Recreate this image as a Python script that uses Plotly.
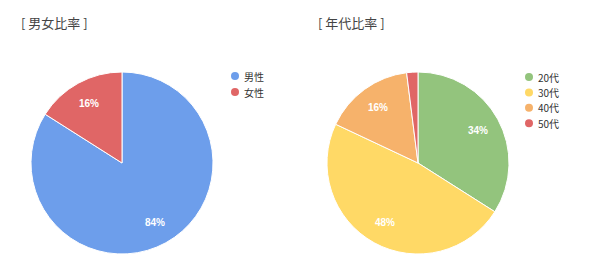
import math
import plotly.graph_objects as go

gender_labels = ["男性", "女性"]
gender_values = [84, 16]
gender_colors = ["#6d9eeb", "#e06666"]

age_labels = ["20代", "30代", "40代", "50代"]
age_values = [34, 48, 16, 2]
age_colors = ["#93c47d", "#ffd966", "#f6b26b", "#e06666"]

W, H = 590, 274
R = 91          # pie radius in px
CY = 163        # pie centre y (px from top)
LEFT_CX, RIGHT_CX = 122, 418

fig = go.Figure()
annotations = []
shapes = []


def add_pie(labels, values, colors, cx):
    fig.add_trace(go.Pie(
        labels=labels, values=values, sort=False, direction="clockwise",
        rotation=0, marker=dict(colors=colors, line=dict(color="white", width=1)),
        textinfo="none", showlegend=False, hoverinfo="label+percent",
        domain=dict(x=[(cx - R) / W, (cx + R) / W],
                    y=[1 - (CY + R) / H, 1 - (CY - R) / H]),
    ))
    # percentage labels placed along slice bisectors (Google-charts style)
    tot = sum(values)
    cum = 0
    for v in values:
        frac = v / tot
        mid = (cum + frac / 2) * 2 * math.pi
        cum += frac
        if frac < 0.05:
            continue
        r = 0.75 * R
        x = cx + r * math.sin(mid)
        y = CY - r * math.cos(mid)
        annotations.append(dict(
            text=f"<b>{round(frac * 100)}%</b>", x=x / W, y=1 - y / H,
            xref="paper", yref="paper", xanchor="center", yanchor="middle",
            showarrow=False,
            font=dict(size=10, color="white", family="Liberation Sans")))


def add_legend(labels, colors, lx, ly, step):
    for i, (lab, col) in enumerate(zip(labels, colors)):
        yy = ly + i * step
        shapes.append(dict(type="circle", xref="paper", yref="paper",
                           x0=(lx - 4) / W, x1=(lx + 4) / W,
                           y0=1 - (yy + 4) / H, y1=1 - (yy - 4) / H,
                           fillcolor=col, line=dict(width=0)))
        annotations.append(dict(
            text=lab, x=(lx + 7) / W, y=1 - yy / H, xref="paper", yref="paper",
            xanchor="left", yanchor="middle", showarrow=False,
            font=dict(size=10, color="#333", family="Noto Sans CJK JP")))


add_pie(gender_labels, gender_values, gender_colors, LEFT_CX)
add_pie(age_labels, age_values, age_colors, RIGHT_CX)
add_legend(gender_labels, gender_colors, 235, 76, 16)
add_legend(age_labels, age_colors, 529, 77, 15.4)

annotations += [
    dict(text="[ 男女比率 ]", x=19 / W, y=1 - 22 / H, xref="paper", yref="paper",
         xanchor="left", yanchor="middle", showarrow=False,
         font=dict(size=13, color="#444", family="Noto Sans CJK JP")),
    dict(text="[ 年代比率 ]", x=316 / W, y=1 - 22 / H, xref="paper", yref="paper",
         xanchor="left", yanchor="middle", showarrow=False,
         font=dict(size=13, color="#444", family="Noto Sans CJK JP")),
]

fig.update_layout(
    width=W, height=H, margin=dict(l=0, r=0, t=0, b=0),
    paper_bgcolor="white", plot_bgcolor="white",
    showlegend=False,
    annotations=annotations, shapes=shapes,
)

fig.write_html("out.html")
